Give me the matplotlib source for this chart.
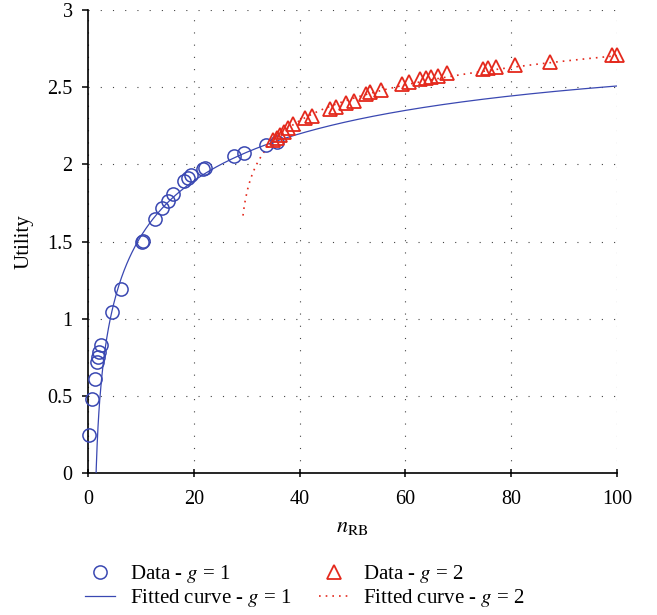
import numpy as np
import matplotlib
matplotlib.use("Agg")
import matplotlib.pyplot as plt
from matplotlib.lines import Line2D

# ---- data ----
g1_x = [0.2, 0.8, 1.3, 1.75, 1.9, 2.1, 2.4, 4.5, 6.2, 10.2, 10.4, 12.7, 13.9, 15.1,
        16.0, 18.2, 18.9, 19.5, 21.8, 22.1, 27.6, 29.5, 33.6, 35.7]
g1_y = [0.245, 0.48, 0.61, 0.72, 0.75, 0.785, 0.83, 1.04, 1.195, 1.50, 1.505, 1.645,
        1.715, 1.76, 1.805, 1.89, 1.91, 1.93, 1.97, 1.975, 2.055, 2.075, 2.125, 2.145]

g2_x = [35.0, 35.7, 36.3, 37.0, 37.8, 38.8, 41.1, 42.3, 45.7, 46.8, 48.8, 50.3, 52.5,
        53.3, 55.3, 59.3, 60.6, 62.8, 63.9, 64.9, 66.1, 67.8, 74.6, 75.7, 77.1, 80.7,
        87.3, 99.0, 100.0]
g2_y = [2.16, 2.17, 2.19, 2.21, 2.234, 2.26, 2.303, 2.314, 2.36, 2.372, 2.398, 2.412,
        2.456, 2.467, 2.482, 2.522, 2.532, 2.553, 2.56, 2.568, 2.575, 2.592, 2.618,
        2.623, 2.632, 2.644, 2.666, 2.709, 2.709]

# samples of the fitted curves
fit1_x = [1.57, 2.08, 3.65, 4.6, 6.18, 10.27, 15.0, 21.8, 34.4, 40.0, 49.5, 80.0, 100.0]
fit1_y = [0.0, 0.52, 0.86, 1.04, 1.2, 1.506, 1.77, 1.985, 2.147, 2.22, 2.294, 2.422, 2.49]
fit2_x = [29.2, 30.1, 30.9, 31.8, 32.9, 33.8, 56.8, 70.3, 83.6, 89.9, 100.0]
fit2_y = [1.68, 1.81, 1.92, 1.98, 2.05, 2.08, 2.49, 2.594, 2.65, 2.677, 2.70]

xticks = [0, 20, 40, 60, 80, 100]
yticks = [0, 0.5, 1, 1.5, 2, 2.5, 3]
ytick_labels = ["0", "0.5", "1", "1.5", "2", "2.5", "3"]

# ---- smooth fitted-curve models (log-type fits) ----
x01, x02 = 1.3, 28.5
c1 = np.polyfit(np.log(np.array(fit1_x) - x01), fit1_y, 3)
c2 = np.polyfit(np.log(np.array(fit2_x) - x02), fit2_y, 1)
xs1 = np.linspace(1.4, 100, 600)
ys1 = np.polyval(c1, np.log(xs1 - x01))
xs2 = np.linspace(29.3, 100, 400)
ys2 = np.polyval(c2, np.log(xs2 - x02))

BLUE = "#3a48b2"
RED = "#e4291d"

plt.rcParams["font.family"] = ["Liberation Serif", "DejaVu Serif"]
plt.rcParams["mathtext.fontset"] = "stix"

fig = plt.figure(figsize=(6.57, 6.15), dpi=100)
ax = fig.add_axes([88 / 657, 1 - 473 / 615, (617 - 88) / 657, (473 - 10) / 615])

ax.plot(xs1, ys1, color=BLUE, lw=0.9, zorder=3)
ax.plot(xs2, ys2, color=RED, lw=1.2, ls=(0, (1, 3)), zorder=3)
ax.plot(g1_x, g1_y, ls="none", marker="o", ms=9.5, mfc="none", mec=BLUE, mew=1.1,
        zorder=4, clip_on=False)
ax.plot(g2_x, g2_y, ls="none", marker="^", ms=10.5, mfc="none", mec=RED, mew=1.3,
        zorder=4, clip_on=False)

ax.set_xlim(0, 100)
ax.set_ylim(0, 3)
ax.set_xticks(xticks)
ax.set_yticks(yticks)
ax.set_yticklabels(ytick_labels)
ax.grid(True, color="#444444", lw=0.8, ls=(0, (1, 10)))
ax.set_axisbelow(True)
for s in ["top", "right"]:
    ax.spines[s].set_visible(False)
for s in ["left", "bottom"]:
    ax.spines[s].set_linewidth(1.2)
ax.tick_params(axis="x", direction="inout", length=6, width=1.1, labelsize=14.5, pad=9)
ax.tick_params(axis="y", direction="out", length=4, width=1.1, labelsize=14.5, pad=7)

ax.set_xlabel(r"$n_{\mathrm{RB}}$", fontsize=16, labelpad=7)
ax.set_ylabel("Utility", fontsize=15, labelpad=10)

handles = [
    Line2D([], [], ls="none", marker="o", ms=9.5, mfc="none", mec=BLUE, mew=1.1),
    Line2D([], [], color=BLUE, lw=0.9),
    Line2D([], [], ls="none", marker="^", ms=10.5, mfc="none", mec=RED, mew=1.3),
    Line2D([], [], color=RED, lw=1.2, ls=(0, (1, 3))),
]
labels = [r"Data - $g$ = 1", r"Fitted curve - $g$ = 1",
          r"Data - $g$ = 2", r"Fitted curve - $g$ = 2"]
fig.legend(handles, labels, ncol=2, frameon=False, fontsize=15,
           loc="center", bbox_to_anchor=(305 / 657, 1 - 586 / 615),
           handlelength=1.45, handletextpad=0.7, columnspacing=1.3,
           labelspacing=0.08)

fig.savefig("out.png", dpi=100)
